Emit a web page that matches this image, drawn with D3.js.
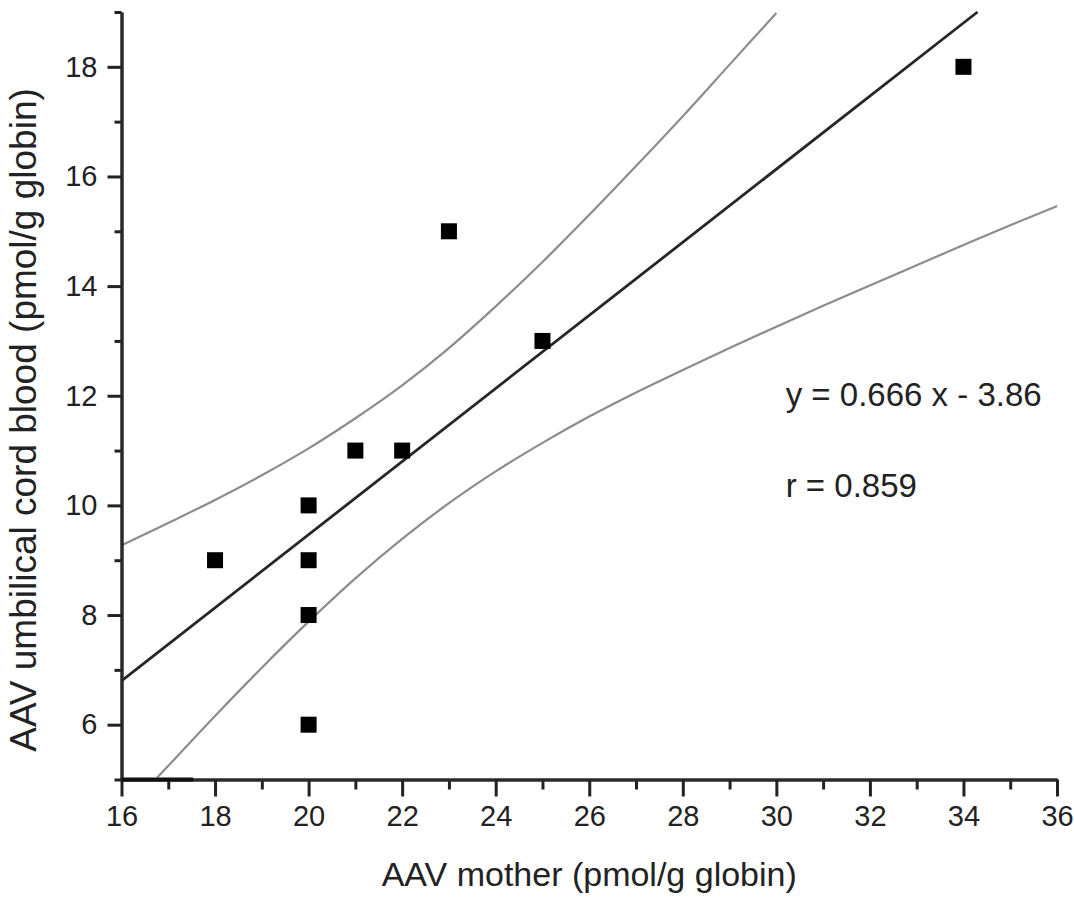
<!DOCTYPE html>
<html>
<head>
<meta charset="utf-8">
<script src="https://cdn.jsdelivr.net/npm/d3@7"></script>
<style>
  body { margin: 0; background: #fff; }
  text { font-family: "Liberation Sans", Arial, sans-serif; fill: #222; }
</style>
</head>
<body>
<div id="chart"></div>
<script>
// measured points (AAV adducts, pmol/g globin)
var motherAAV = [18, 20, 20, 20, 20, 21, 22, 23, 25, 34];
var cordAAV = [9, 10, 9, 8, 6, 11, 11, 15, 13, 18];

// regression line, read at its two ends
var fitX = [16, 34.3];
var fitY = [6.80, 19.0];

// confidence band curves
var upperX = [16, 17, 18, 19, 20, 21, 22, 23, 24, 25, 26, 27, 28, 29, 30];
var upperY = [9.27, 9.68, 10.10, 10.55, 11.04, 11.59, 12.19, 12.87, 13.63, 14.44, 15.30, 16.19, 17.10, 18.04, 18.98];
var lowerX = [16.76, 17, 18, 19, 20, 21, 22, 23, 24, 25, 26, 27, 28, 29, 30, 31, 32, 33, 34, 35, 36];
var lowerY = [5.03, 5.25, 6.16, 7.04, 7.88, 8.67, 9.39, 10.04, 10.62, 11.14, 11.62, 12.06, 12.47, 12.87, 13.26, 13.64, 14.01, 14.38, 14.75, 15.11, 15.46];

// darker stub at the start of the x axis line
var axisStub = [16, 17.53];

var xMajor = [16, 18, 20, 22, 24, 26, 28, 30, 32, 34, 36];
var xMinor = [17, 19, 21, 23, 25, 27, 29, 31, 33, 35];
var yMajor = [6, 8, 10, 12, 14, 16, 18];
var yMinor = [5, 7, 9, 11, 13, 15, 17, 19];

var notes = ["y = 0.666 x - 3.86", "r = 0.859"];
var xTitle = "AAV mother (pmol/g globin)";
var yTitle = "AAV umbilical cord blood (pmol/g globin)";

var width = 1074, height = 897;

var svg = d3.select("#chart").append("svg")
    .attr("width", width)
    .attr("height", height);

var x = d3.scaleLinear().domain([16, 36]).range([121.5, 1057]);
var y = d3.scaleLinear().domain([5, 19]).range([779.5, 12]);

// bands and fit
var band = d3.line()
    .x(function(d){ return x(d[0]); })
    .y(function(d){ return y(d[1]); })
    .curve(d3.curveMonotoneX);

svg.append("path")
    .datum(d3.zip(upperX, upperY))
    .attr("d", band)
    .attr("fill", "none")
    .attr("stroke", "#8c8c8c")
    .attr("stroke-width", 2.2);

svg.append("path")
    .datum(d3.zip(lowerX, lowerY))
    .attr("d", band)
    .attr("fill", "none")
    .attr("stroke", "#8c8c8c")
    .attr("stroke-width", 2.2);

svg.append("path")
    .datum(d3.zip(fitX, fitY))
    .attr("d", d3.line().x(function(d){ return x(d[0]); }).y(function(d){ return y(d[1]); }))
    .attr("fill", "none")
    .attr("stroke", "#262626")
    .attr("stroke-width", 2.8);

// axes
function styleAxis(g){
    g.select(".domain").attr("stroke", "#2a2a2a").attr("stroke-width", 3);
    g.selectAll(".tick line").attr("stroke", "#222").attr("stroke-width", 3);
    g.selectAll(".tick text")
	.attr("font-size", 29)
	.attr("font-family", "'Liberation Sans Narrow', 'Arial Narrow', 'Liberation Sans', sans-serif")
	.attr("fill", "#222");
}

svg.append("g")
    .attr("transform", "translate(0," + y(5) + ")")
    .call(d3.axisBottom(x).tickValues(xMinor).tickSize(10).tickSizeOuter(0).tickFormat(""))
    .call(styleAxis);

svg.append("g")
    .attr("transform", "translate(0," + y(5) + ")")
    .call(d3.axisBottom(x).tickValues(xMajor).tickSize(17).tickSizeOuter(0).tickPadding(9))
    .call(styleAxis);

svg.append("g")
    .attr("transform", "translate(" + x(16) + ",0)")
    .call(d3.axisLeft(y).tickValues(yMinor).tickSize(7).tickSizeOuter(0).tickFormat(""))
    .call(styleAxis);

svg.append("g")
    .attr("transform", "translate(" + x(16) + ",0)")
    .call(d3.axisLeft(y).tickValues(yMajor).tickSize(14).tickSizeOuter(0).tickPadding(10))
    .call(styleAxis);

svg.append("line")
    .attr("x1", x(axisStub[0]))
    .attr("x2", x(axisStub[1]))
    .attr("y1", y(5))
    .attr("y2", y(5))
    .attr("stroke", "#111")
    .attr("stroke-width", 4);

// points
var size = 16;
svg.selectAll(".pt")
    .data(d3.zip(motherAAV, cordAAV))
    .enter().append("rect")
    .attr("class", "pt")
    .attr("x", function(d){ return x(d[0]) - size / 2; })
    .attr("y", function(d){ return y(d[1]) - size / 2; })
    .attr("width", size)
    .attr("height", size)
    .attr("fill", "#000");

// annotation
svg.selectAll(".note")
    .data(notes)
    .enter().append("text")
    .attr("class", "note")
    .attr("x", x(30.2))
    .attr("y", function(d, i){ return 406 + i * 91; })
    .attr("font-size", 33)
    .text(function(d){ return d; });

// titles
svg.append("text")
    .attr("x", (x(16) + x(36)) / 2)
    .attr("y", 886)
    .attr("text-anchor", "middle")
    .attr("font-size", 34)
    .text(xTitle);

svg.append("text")
    .attr("transform", "translate(36," + 420 + ") rotate(-90)")
    .attr("text-anchor", "middle")
    .attr("font-size", 37)
    .text(yTitle);
</script>
</body>
</html>
